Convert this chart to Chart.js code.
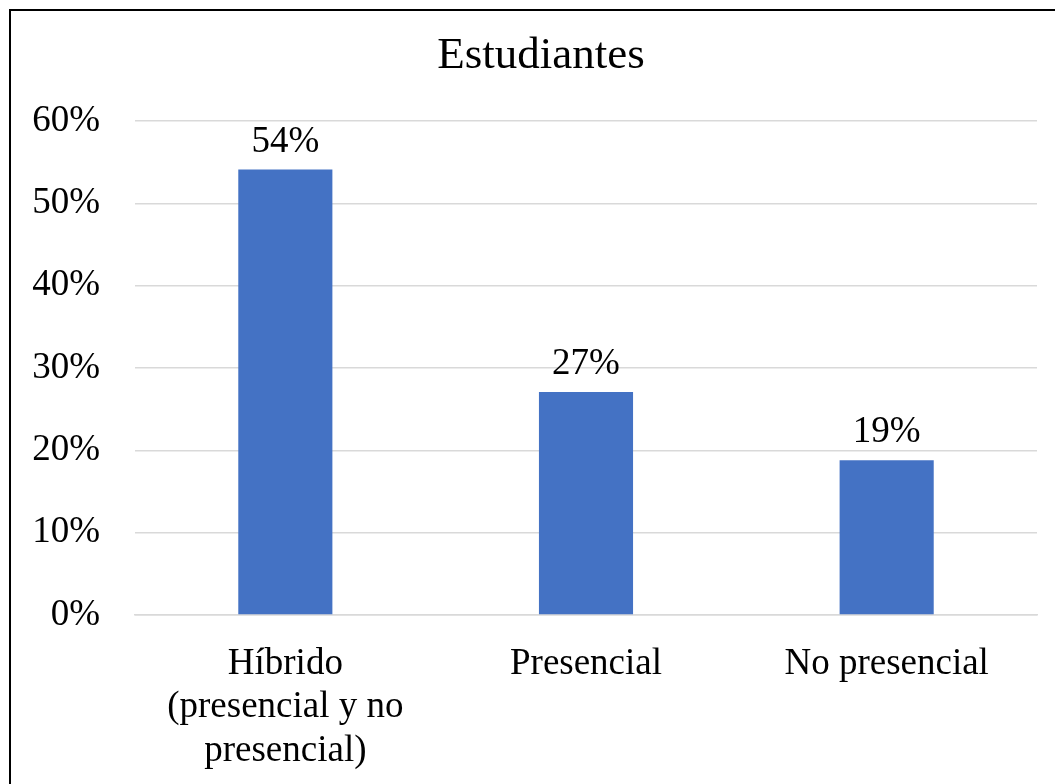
<!DOCTYPE html>
<html lang="es">
<head>
<meta charset="utf-8">
<title>Estudiantes</title>
<script src="https://cdn.jsdelivr.net/npm/chart.js@4.4.1/dist/chart.umd.min.js"></script>
<style>
    html, body {
        margin: 0;
        padding: 0;
        background: #ffffff;
        overflow: hidden;
    }
    .chart-wrapper {
        position: relative;
        width: 1055px;
        height: 784px;
    }
    .chart-frame {
        position: absolute;
        left: 9px;
        top: 9px;
        width: 1100px;
        height: 820px;
        border: 2px solid #000000;
        pointer-events: none;
    }
</style>
</head>
<body>
<div class="chart-wrapper">
    <canvas id="studentsChart" width="1055" height="784"></canvas>
    <div class="chart-frame"></div>
</div>
<script>
// Chart data
const categories = [
    ['Híbrido', '(presencial y no', 'presencial)'],
    'Presencial',
    'No presencial'
];
const shareValues = [54.1, 27.1, 18.8];
const yTicks = [0, 10, 20, 30, 40, 50, 60];

const BAR_COLOR = '#4472C4';
const GRID_COLOR = '#d9d9d9';
const TEXT_COLOR = '#000000';
const FONT_FAMILY = '"Liberation Serif", "DejaVu Serif", serif';

/**
 * Draws the percentage above each bar
 */
const barValueLabels = {
    id: 'barValueLabels',
    afterDatasetsDraw(chart) {
        const ctx = chart.ctx;
        const meta = chart.getDatasetMeta(0);
        ctx.save();
        ctx.font = `37px ${FONT_FAMILY}`;
        ctx.fillStyle = TEXT_COLOR;
        ctx.textAlign = 'center';
        ctx.textBaseline = 'alphabetic';
        meta.data.forEach((bar, i) => {
            const label = Math.round(shareValues[i]) + '%';
            ctx.fillText(label, bar.x, bar.y - 18);
        });
        ctx.restore();
    }
};

/**
 * The title is centred on the whole framed chart, which is wider than the
 * window, so its box is pushed right a little after layout
 */
const titleShift = {
    id: 'titleShift',
    afterLayout(chart) {
        if (chart.titleBlock) {
            chart.titleBlock.left = 45;
        }
    }
};

const canvas = document.getElementById('studentsChart');

new Chart(canvas, {
    type: 'bar',
    data: {
        labels: categories,
        datasets: [{
            data: shareValues,
            backgroundColor: BAR_COLOR,
            borderWidth: 0,
            categoryPercentage: 0.313,
            barPercentage: 1.0
        }]
    },
    options: {
        responsive: false,
        animation: false,
        devicePixelRatio: 1,
        layout: {
            padding: { left: 0, right: 18, top: 0, bottom: 0 }
        },
        plugins: {
            legend: { display: false },
            tooltip: { enabled: false },
            title: {
                display: true,
                text: 'Estudiantes',
                color: TEXT_COLOR,
                font: { family: FONT_FAMILY, size: 45, weight: 'normal', lineHeight: 1.2 },
                padding: { top: 29, bottom: 38 }
            }
        },
        scales: {
            x: {
                grid: { display: false, drawTicks: false },
                border: { display: true, color: GRID_COLOR, width: 1.5 },
                ticks: {
                    color: TEXT_COLOR,
                    font: { family: FONT_FAMILY, size: 37, lineHeight: 1.18 },
                    padding: 27,
                    maxRotation: 0,
                    autoSkip: false
                },
                afterFit(scale) {
                    scale.height = 169;
                }
            },
            y: {
                min: 0,
                max: 60,
                afterBuildTicks(scale) {
                    scale.ticks = yTicks.map(v => ({ value: v }));
                },
                grid: { color: GRID_COLOR, lineWidth: 1.5, drawTicks: false },
                border: { display: false },
                ticks: {
                    color: TEXT_COLOR,
                    font: { family: FONT_FAMILY, size: 37 },
                    padding: 35,
                    callback: value => value + '%'
                },
                afterFit(scale) {
                    scale.width = 135;
                }
            }
        }
    },
    plugins: [barValueLabels, titleShift]
});
</script>
</body>
</html>
